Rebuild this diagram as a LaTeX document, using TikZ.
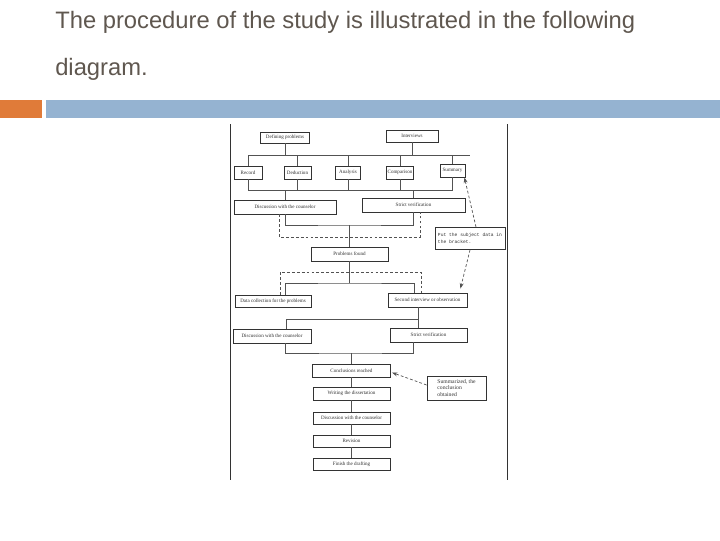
\documentclass[tikz,border=0pt]{standalone}
\usepackage{fontspec}
\setmainfont{Liberation Serif}
\newfontfamily\slidefont{Liberation Sans}
\newfontfamily\scanmono{Liberation Mono}
\usepackage{xcolor}
\usetikzlibrary{calc,arrows.meta,positioning}
\definecolor{titlec}{HTML}{5F574F}
\definecolor{barorange}{HTML}{E07B39}
\definecolor{barblue}{HTML}{95B3D1}
\definecolor{scanc}{HTML}{333333}
\tikzset{
  sbox/.style 2 args={draw=scanc,line width=0.6pt,fill=white,inner sep=0pt,
    minimum width=#1*0.025cm,minimum height=#2*0.025cm,align=center,
    font=\fontsize{3.6}{4.2}\selectfont,text=scanc},
  ln/.style={line width=0.5pt,scanc!85},
  dsh/.style={ln,dash pattern=on 2pt off 1.5pt},
  dar/.style={dsh,-{Stealth[length=1.4mm,width=1mm]}},
  ttl/.style={anchor=base west,inner sep=0pt,text=titlec,font=\slidefont\fontsize{16.9}{20}\selectfont}
}
\begin{document}
\begin{tikzpicture}[x=0.025cm,y=-0.025cm]
\useasboundingbox (0,0) rectangle (720,540);
% slide heading
\node[ttl] (t1) at (55,28) {The procedure of the study is illustrated in the following};
\node[ttl] (t2) at (55,75) {diagram.};
\fill[barorange] (0,100) rectangle (42,118);
\fill[barblue] (46,100) rectangle (720,118);
% edges of the scanned figure
\draw[scanc,line width=0.6pt] (230,124) -- (230,480);
\draw[scanc,line width=0.6pt] (507,124) -- (507,480);

% top part
\node[sbox={49}{11}] (def) at (285,137.5) {Defining problems};
\node[sbox={52}{12}] (intv) at (412,136) {Interviews};
\foreach \nm/\xx/\yy/\ww/\txt in {rec/248/172.5/28/Record,ded/297.5/172.5/27/Deduction,
    ana/348/172.5/25/Analysis,com/400/172.5/27/Comparison,sum/452.5/170.5/25/Summary}
  \node[sbox={\ww}{13}] (\nm) at (\xx,\yy) {\txt};
\coordinate (bl) at (248,155);
\coordinate (br) at (470,155);
\draw[ln] (bl) -- (br);
\draw[ln] (def.south) -- (def.south |- bl);
\draw[ln] (intv.south) -- (intv.south |- bl);
\coordinate (ll) at (248,190);
\coordinate (lr) at (452.5,190);
\draw[ln] (ll) -- (lr);
\foreach \nm in {rec,ded,ana,com,sum}{
  \draw[ln] (\nm.north) -- (\nm.north |- bl);
  \draw[ln] (\nm.south) -- (\nm.south |- ll);}

\node[sbox={102}{14}] (disc1) at (285,207) {Discussion with the counselor};
\node[sbox={103}{14}] (ver1) at (413.5,205) {Strict verification};
\draw[ln] (disc1.north) -- (disc1.north |- ll);
\draw[ln] (ver1.north) -- (ver1.north |- ll);

\node[sbox={70}{22},font=\scanmono\fontsize{3.3}{4.7}\selectfont,align=left] (put) at (470,238.5)
  {Put the subject data in\\ the bracket.};
\node[sbox={77}{14}] (prob) at (349.5,254) {Problems found};
\coordinate (j1) at (349.5,225);
\draw[ln] (disc1.south) |- (j1) -| (ver1.south);
\draw[ln] (j1) -- (prob.north);
\draw[dsh] ($(disc1.south)+(-6,0)$) |- ($(j1)+(0,12)$) -| ($(ver1.south)+(6.5,0)$);

% second round
\node[sbox={76}{12}] (data) at (273,301) {Data collection for the problems};
\node[sbox={79}{14}] (second) at (427.5,300) {Second interview or observation};
\coordinate (j2) at (349.5,283);
\draw[ln] (prob.south) -- (j2);
\draw[ln] ($(data.north)+(12,0)$) |- (j2) -| ($(second.north)+(-13.5,0)$);
\draw[dsh] ($(data.north)+(7,0)$) |- ($(j2)+(0,-11)$) -| ($(second.north)+(-6.5,0)$);
\draw[dar] ($(put.north)+(6,0)$) -- ($(sum.south east)+(-1,0)$);
\draw[dar] (put.south) -- ($(second.north east)+(-7,-4)$);

\node[sbox={78}{14}] (disc2) at (272,336) {Discussion with the counselor};
\node[sbox={77}{14}] (ver2) at (428.5,335) {Strict verification};
\coordinate (j3) at (418,319);
\draw[ln] ($(second.south)+(-9.5,0)$) -- ($(ver2.north)+(-10.5,0)$);
\draw[ln] ($(disc2.north)+(14,0)$) |- (j3);
\coordinate (j4) at (351.5,353);
\draw[ln] ($(disc2.south)+(13,0)$) |- (j4) -| ($(ver2.south)+(-15.5,0)$);

% writing up
\node[sbox={78}{13}] (concl) at (351.5,370.5) {Conclusions reached};
\node[sbox={59}{24},font=\fontsize{4}{4.7}\selectfont,align=left] (sumd) at (456.5,388)
  {Summarized, the\\ conclusion\\ obtained};
\node[sbox={77}{13}] (write) at (351.5,393.5) {Writing the dissertation};
\node[sbox={77}{12}] (disc3) at (351.5,418) {Discussion with the counselor};
\node[sbox={77}{12}] (rev) at (351.5,441) {Revision};
\node[sbox={77}{12}] (fin) at (351.5,464) {Finish the drafting};
\draw[ln] (j4) -- (concl.north);
\foreach \a/\b in {concl/write,write/disc3,disc3/rev,rev/fin}
  \draw[ln] (\a.south) -- (\b.north);
\draw[dar] ($(sumd.west)+(0,-3)$) -- ($(concl.east)+(1,2)$);
\end{tikzpicture}
\end{document}
